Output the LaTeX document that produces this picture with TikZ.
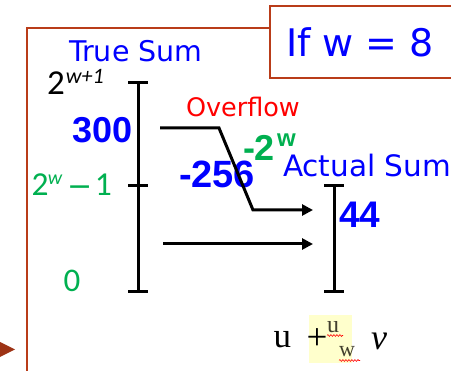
\documentclass[tikz,border=0pt]{standalone}
\usepackage{fontspec}
\setmainfont{DejaVu Sans}
\newfontfamily\carlito{Carlito}
\newfontfamily\libsans{Liberation Sans}
\newfontfamily\libserif{Liberation Serif}
\usetikzlibrary{arrows.meta,decorations.pathmorphing}
\newcommand\fsz[1]{\fontsize{#1}{#1}\selectfont}
\definecolor{tblue}{RGB}{0,0,255}
\definecolor{tgreen}{RGB}{0,176,80}
\definecolor{tred}{RGB}{255,0,0}
\definecolor{frame}{RGB}{185,60,25}
\definecolor{hl}{RGB}{255,255,204}
\begin{document}
\begin{tikzpicture}[x=1pt,y=-1pt,
  txt/.style={inner sep=0pt,outer sep=0pt,anchor=base west},
  barline/.style={line width=3pt,black},
  arr/.style={line width=3pt,-{Triangle[length=11pt,width=11pt]}},
  wavy/.style={tred,line width=0.6pt,decorate,decoration={snake,amplitude=0.9pt,segment length=3pt}}]
\useasboundingbox (0,0) rectangle (451,371);
\fill[white] (0,0) rectangle (451,371);
% frame
\coordinate (fbl) at (27,371);
\coordinate (ftl) at (27,28.5);
\coordinate (ftr) at (269,28.5);
\draw[frame,line width=2pt] (fbl) -- (ftl) -- (ftr);
\coordinate (t1) at (0,342);
\coordinate (t2) at (15,349.5);
\coordinate (t3) at (0,357);
\fill[frame!85!black] (t1) -- (t2) -- (t3) -- cycle;
% If w = 8 box
\node[draw=frame,line width=1.8pt,fill=white,minimum width=183pt,minimum height=72pt,anchor=north west,inner sep=0pt] (ifbox) at (269,5) {};
\node[txt,anchor=base,tblue,font=\fsz{38}] (iftext) at (360,57) {If w = 8};
% labels left
\node[txt,tblue,font=\fsz{28.5}] (truesum) at (69,62) {True Sum};
\node[txt,font=\carlito\fsz{35}] (twoA) at (47,95) {2};
\node[txt,font=\carlito\itshape\fsz{22}] (twoAsup) at (66,84) {w+1};
\node[txt,tgreen,font=\carlito\fsz{33.5}] (twoB) at (31.5,196) {2};
\node[txt,tgreen,font=\carlito\itshape\fsz{20}] (twoBsup) at (48,185) {w};
\node[txt,tgreen,font=\fsz{30}] (twoBminus) at (67,197) {−};
\node[txt,tgreen,font=\carlito\fsz{33.5}] (twoBone) at (95,196) {1};
\node[txt,tgreen,font=\carlito\fsz{33}] (zero) at (63.5,292) {0};
\node[txt,tblue,font=\libsans\bfseries\fsz{36}] (n300) at (72,143) {300};
% left bar
\coordinate (lt) at (138,83);
\coordinate (lm) at (138,186);
\coordinate (lb) at (138,292);
\draw[barline] (lt) -- (lb);
\foreach \p in {lt,lm,lb} \draw[barline] ([xshift=-10pt]\p) -- ([xshift=10pt]\p);
% right bar
\coordinate (rt) at (334,186);
\coordinate (rb) at (334,292);
\draw[barline] (rt) -- (rb);
\foreach \p in {rt,rb} \draw[barline] ([xshift=-10pt]\p) -- ([xshift=10pt]\p);
% texts middle
\node[txt,tred,font=\fsz{25.5}] (overflow) at (186,117) {Overflow};
\node[txt,tgreen,font=\libsans\bfseries\fsz{36}] (m2) at (243,161) {-2};
\node[txt,tgreen,font=\libsans\bfseries\fsz{24}] (m2sup) at (277,147) {w};
\node[txt,tblue,font=\libsans\bfseries\fsz{38}] (m256) at (179,188) {-256};
\node[txt,tblue,font=\fsz{29.5}] (actual) at (283,177) {Actual Sum};
\node[txt,tblue,font=\libsans\bfseries\fsz{37}] (n44) at (339,228) {44};
% arrows
\coordinate (a1) at (160,128);
\coordinate (a2) at (219,128);
\coordinate (a3) at (253,210);
\coordinate (a4) at (313,210);
\draw[arr,line join=miter] (a1) -- (a2) -- (a3) -- (a4);
\coordinate (b1) at (163,244);
\coordinate (b2) at (313,244);
\draw[arr] (b1) -- (b2);
% formula
\fill[hl] (309,315) rectangle (352,363);
\node[txt,font=\libserif\fsz{35}] (fu) at (273.5,348) {u};
\node[txt,font=\libserif\fsz{37}] (fplus) at (306.5,350) {+};
\node[txt,font=\libserif\fsz{24},black!70!olive] (fsu) at (327,333) {u};
\node[txt,font=\libserif\fsz{22},black!70!olive] (fsw) at (339,357) {w};
\node[txt,font=\libserif\itshape\fsz{36}] (fv) at (371,350) {v};
\coordinate (w1) at (327,335.5);
\coordinate (w2) at (343,335.5);
\coordinate (w3) at (339,360.5);
\coordinate (w4) at (360,360.5);
\draw[wavy] (w1) -- (w2);
\draw[wavy] (w3) -- (w4);
\end{tikzpicture}
\end{document}
